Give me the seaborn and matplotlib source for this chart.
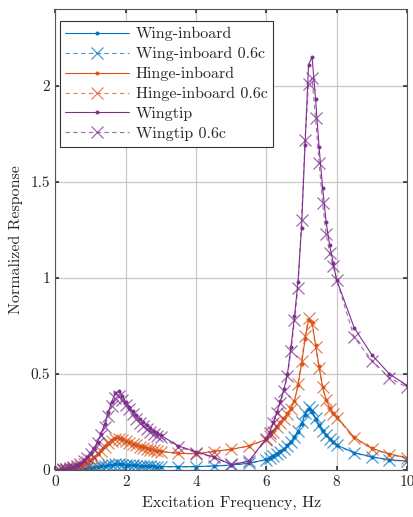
import numpy as np
import pandas as pd
import seaborn as sns
import matplotlib
matplotlib.use("Agg")
import matplotlib.pyplot as plt

# ---------------- data ----------------
freq = [0.1, 0.2, 0.3, 0.4, 0.5, 0.6, 0.7, 0.8, 0.9, 1.0,
        1.1, 1.2, 1.3, 1.4, 1.5, 1.6, 1.7, 1.8, 1.9, 2.0,
        2.1, 2.2, 2.3, 2.4, 2.5, 2.6, 2.7, 2.8, 2.9, 3.0,
        3.5, 4.0, 4.5, 5.0, 5.5,
        6.0, 6.1, 6.2, 6.3, 6.4, 6.5, 6.6, 6.7, 6.8, 6.9, 7.0,
        7.1, 7.2, 7.3, 7.4, 7.5, 7.6, 7.7, 7.8, 7.9, 8.0,
        8.5, 9.0, 9.5, 10.0]

wing_inboard = [0.0, 0.001, 0.001, 0.002, 0.003, 0.004, 0.005, 0.007, 0.009, 0.011,
                0.014, 0.017, 0.02, 0.023, 0.026, 0.028, 0.03, 0.03, 0.029, 0.028,
                0.027, 0.025, 0.024, 0.023, 0.022, 0.021, 0.02, 0.019, 0.018, 0.018,
                0.017, 0.018, 0.021, 0.026, 0.035,
                0.055, 0.065, 0.075, 0.085, 0.097, 0.11, 0.128, 0.148, 0.17, 0.2, 0.24,
                0.285, 0.32, 0.30, 0.265, 0.235, 0.205, 0.18, 0.16, 0.145, 0.13,
                0.09, 0.069, 0.053, 0.047]
wing_inboard_06c = [0.0, 0.001, 0.001, 0.002, 0.003, 0.004, 0.005, 0.007, 0.009, 0.011,
                    0.013, 0.016, 0.019, 0.022, 0.025, 0.027, 0.029, 0.029, 0.028, 0.027,
                    0.026, 0.024, 0.023, 0.022, 0.021, 0.02, 0.019, 0.018, 0.018, 0.017,
                    0.016, 0.017, 0.02, 0.025, 0.034,
                    0.053, 0.063, 0.073, 0.083, 0.095, 0.108, 0.126, 0.147, 0.17, 0.205, 0.25,
                    0.295, 0.33, 0.31, 0.27, 0.235, 0.205, 0.18, 0.16, 0.144, 0.128,
                    0.088, 0.067, 0.052, 0.045]
hinge_inboard = [0.001, 0.002, 0.004, 0.007, 0.011, 0.016, 0.022, 0.03, 0.04, 0.052,
                 0.067, 0.085, 0.105, 0.125, 0.143, 0.157, 0.165, 0.166, 0.16, 0.152,
                 0.144, 0.137, 0.13, 0.124, 0.118, 0.113, 0.108, 0.104, 0.10, 0.097,
                 0.087, 0.085, 0.097, 0.108, 0.125,
                 0.16, 0.18, 0.205, 0.23, 0.25, 0.27, 0.295, 0.325, 0.36, 0.44, 0.55,
                 0.68, 0.78, 0.77, 0.65, 0.54, 0.43, 0.365, 0.325, 0.295, 0.277,
                 0.17, 0.113, 0.083, 0.064]
hinge_inboard_06c = [0.001, 0.002, 0.004, 0.007, 0.011, 0.016, 0.022, 0.03, 0.04, 0.051,
                     0.065, 0.082, 0.1, 0.12, 0.138, 0.152, 0.16, 0.162, 0.157, 0.15,
                     0.142, 0.135, 0.128, 0.122, 0.116, 0.111, 0.106, 0.102, 0.098, 0.095,
                     0.086, 0.084, 0.096, 0.107, 0.124,
                     0.158, 0.178, 0.2, 0.225, 0.245, 0.265, 0.29, 0.32, 0.36, 0.45, 0.57,
                     0.70, 0.79, 0.76, 0.64, 0.53, 0.43, 0.365, 0.32, 0.29, 0.272,
                     0.165, 0.11, 0.08, 0.062]
wingtip = [0.002, 0.004, 0.006, 0.01, 0.016, 0.024, 0.035, 0.05, 0.068, 0.09,
           0.115, 0.148, 0.19, 0.24, 0.30, 0.355, 0.40, 0.41, 0.385, 0.355,
           0.33, 0.305, 0.285, 0.265, 0.248, 0.232, 0.218, 0.205, 0.193, 0.18,
           0.125, 0.095, 0.068, 0.028, 0.045,
           0.165, 0.20, 0.25, 0.30, 0.36, 0.42, 0.50, 0.64, 0.80, 0.98, 1.26,
           1.69, 2.11, 2.15, 1.93, 1.68, 1.47, 1.29, 1.17, 1.08, 0.99,
           0.74, 0.60, 0.50, 0.44]
wingtip_06c = [0.002, 0.004, 0.006, 0.01, 0.015, 0.022, 0.033, 0.047, 0.064, 0.085,
               0.11, 0.14, 0.18, 0.225, 0.28, 0.335, 0.375, 0.385, 0.365, 0.34,
               0.315, 0.29, 0.267, 0.247, 0.229, 0.214, 0.2, 0.188, 0.178, 0.17,
               0.12, 0.09, 0.066, 0.03, 0.046,
               0.16, 0.195, 0.245, 0.295, 0.35, 0.41, 0.49, 0.62, 0.78, 0.95, 1.30,
               1.72, 2.01, 2.04, 1.83, 1.60, 1.39, 1.23, 1.13, 1.06, 0.99,
               0.69, 0.57, 0.48, 0.43]

labels = ["Wing-inboard", "Wing-inboard 0.6c", "Hinge-inboard",
          "Hinge-inboard 0.6c", "Wingtip", "Wingtip 0.6c"]
series = [wing_inboard, wing_inboard_06c, hinge_inboard,
          hinge_inboard_06c, wingtip, wingtip_06c]

x_ticks = [0, 2, 4, 6, 8, 10]
y_ticks = [0, 0.5, 1, 1.5, 2]
y_tick_labels = ["0", "0.5", "1", "1.5", "2"]

# ---------------- style ----------------
sns.set_theme(style="ticks")
plt.rcParams["font.family"] = ["cmr10", "DejaVu Serif"]
plt.rcParams["mathtext.fontset"] = "cm"
plt.rcParams["axes.formatter.use_mathtext"] = True
plt.rcParams["axes.unicode_minus"] = False

colors = ["#0072BD", "#0072BD", "#D95319", "#D95319", "#7E2F8E", "#7E2F8E"]

fig = plt.figure(figsize=(4.14, 5.17), dpi=100)
ax = fig.add_axes([0.134, 0.0909, 0.849, 0.8917])

for i, (lab, vals) in enumerate(zip(labels, series)):
    df = pd.DataFrame({"f": freq, "r": vals})
    dashed = (i % 2 == 1)
    sns.lineplot(data=df, x="f", y="r", ax=ax, color=colors[i],
                 linestyle=(0, (4, 3)) if dashed else "-",
                 marker="x" if dashed else ".",
                 markersize=8 if dashed else 4.5,
                 markeredgewidth=0.9 if dashed else 0.6,
                 markeredgecolor=colors[i], markerfacecolor=colors[i],
                 linewidth=0.8, alpha=0.72 if dashed else 1.0,
                 label=lab, sort=False, estimator=None)

ax.set_xlim(0, 10)
ax.set_ylim(0, 2.4)
ax.set_xticks(x_ticks)
ax.set_xticklabels([str(t) for t in x_ticks])
ax.set_yticks(y_ticks)
ax.set_yticklabels(y_tick_labels)
ax.grid(True, color="#c8c8c8", linewidth=0.9)
ax.set_axisbelow(True)
ax.tick_params(direction="in", top=True, right=True, length=3,
               labelsize=11, color="#333333", labelcolor="#262626", pad=4)
for s in ax.spines.values():
    s.set_color("#555555")
    s.set_linewidth(0.8)

ax.set_xlabel("Excitation Frequency, Hz", fontsize=11.5, color="#262626", labelpad=5)
ax.set_ylabel("Normalized Response", fontsize=11.5, color="#262626", labelpad=5)

leg = ax.legend(loc="upper left", bbox_to_anchor=(0.012, 0.973), borderaxespad=0,
                fontsize=11.5, handlelength=4.0, labelspacing=0.36,
                frameon=True, fancybox=False, framealpha=1, edgecolor="#333333",
                borderpad=0.35, handletextpad=0.4)
leg.get_frame().set_linewidth(0.8)
for t in leg.get_texts():
    t.set_color("#262626")

fig.savefig("out.png", dpi=100)
